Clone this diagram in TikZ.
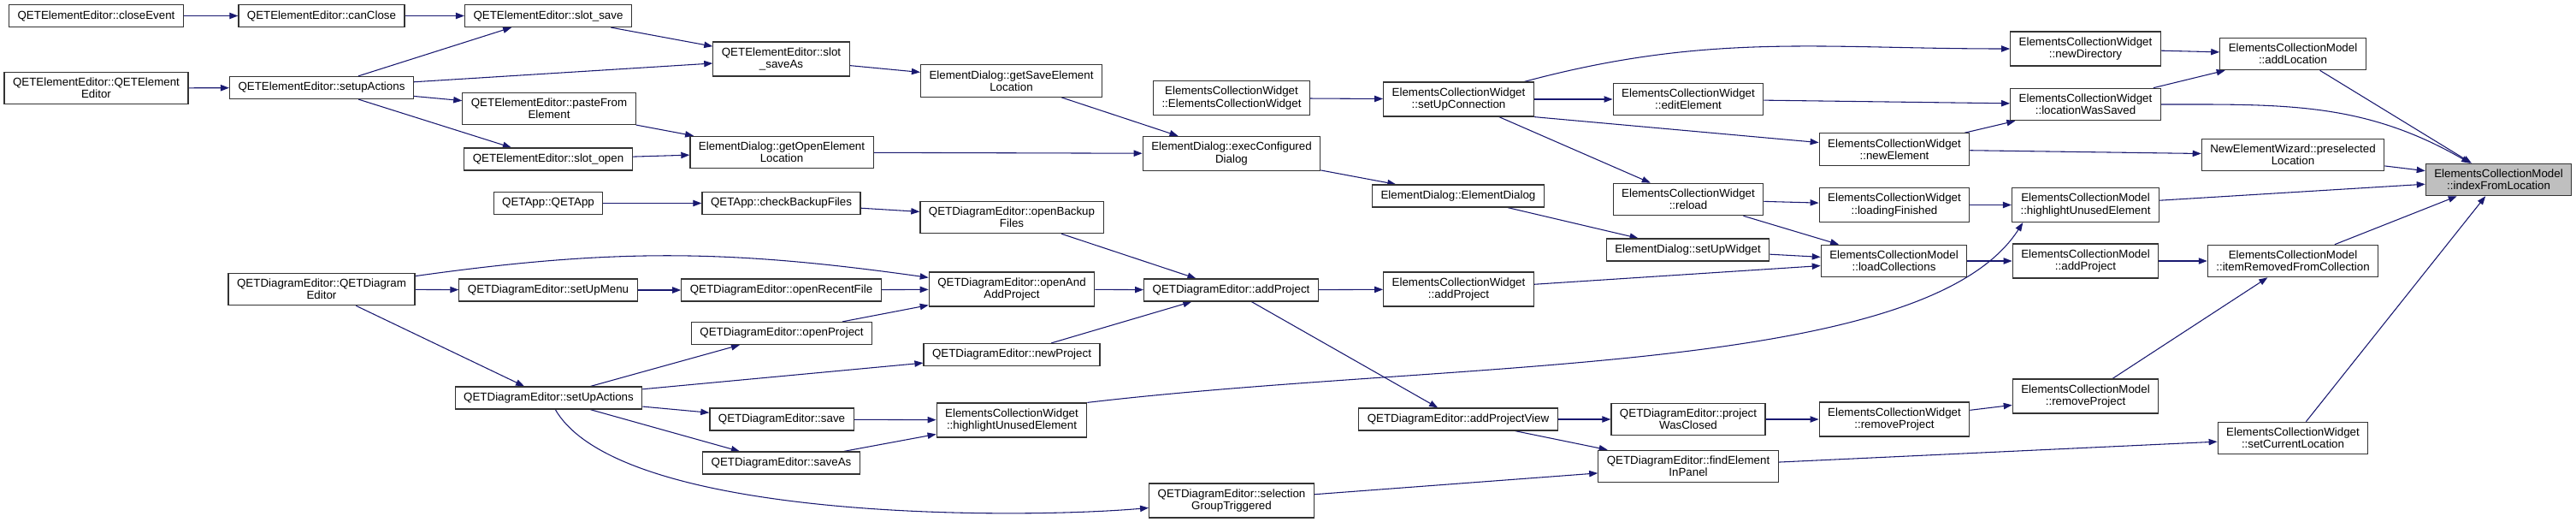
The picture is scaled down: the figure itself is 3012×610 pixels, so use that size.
\documentclass[tikz,border=0pt]{standalone}
\usepackage{fontspec}
\setmainfont{Liberation Sans}
\usetikzlibrary{arrows.meta,positioning,calc}
\definecolor{midnight}{RGB}{25,25,112}

\begin{document}
\begin{tikzpicture}[x=0.75pt,y=-0.75pt,
    fn/.style={draw=black!80, fill=white, line width=0.9pt, inner xsep=7.5pt, inner ysep=5pt,
      minimum height=19.5pt, align=center, font=\fontsize{10}{10.7}\selectfont},
    root/.style={fn, fill=black!25},
    call/.style={draw=midnight, line width=0.8pt, -{Triangle[length=7.5pt,width=5.5pt]}}]
    \pgfdeclarelayer{background}
    \pgfsetlayers{background,main}
    \useasboundingbox (0,0) rectangle (3012,610);
    % element editor
    \node[fn] (close-event) at (112.5,18.5) {QETElementEditor::closeEvent};
    \node[fn] (can-close) at (376,18.5) {QETElementEditor::canClose};
    \node[fn] (slot-save) at (641,18.5) {QETElementEditor::slot\_save};
    \node[fn] (qee-ctor) at (112.5,103) {QETElementEditor::QETElement\\Editor};
    \node[fn] (qee-setup) at (376,102.5) {QETElementEditor::setupActions};
    \node[fn] (slot-save-as) at (913.5,69) {QETElementEditor::slot\\\_saveAs};
    \node[fn] (paste-from) at (642,127) {QETElementEditor::pasteFrom\\Element};
    \node[fn] (slot-open) at (641,186) {QETElementEditor::slot\_open};
    \node[fn] (get-open) at (914,178) {ElementDialog::getOpenElement\\Location};
    \node[fn] (get-save) at (1182.5,94.5) {ElementDialog::getSaveElement\\Location};
    \node[fn] (exec-dialog) at (1440,179.5) {ElementDialog::execConfigured\\Dialog};
    \node[fn] (ed-ctor) at (1705,229) {ElementDialog::ElementDialog};
    \node[fn] (setup-widget) at (1973.5,292) {ElementDialog::setUpWidget};
    % collection widget / model
    \node[fn] (ecw-ctor) at (1440,114.5) {ElementsCollectionWidget\\::ElementsCollectionWidget};
    \node[fn] (setup-conn) at (1705.5,116) {ElementsCollectionWidget\\::setUpConnection};
    \node[fn] (edit-element) at (1974,116) {ElementsCollectionWidget\\::editElement};
    \node[fn] (new-dir) at (2438.5,57) {ElementsCollectionWidget\\::newDirectory};
    \node[fn] (add-loc) at (2681,63) {ElementsCollectionModel\\::addLocation};
    \node[fn] (loc-saved) at (2438.5,122) {ElementsCollectionWidget\\::locationWasSaved};
    \node[fn] (new-element) at (2215,174.5) {ElementsCollectionWidget\\::newElement};
    \node[fn] (preselected) at (2681,181) {NewElementWizard::preselected\\Location};
    \node[root] (index) at (2921.5,210) {ElementsCollectionModel\\::indexFromLocation};
    \node[fn] (reload) at (1974,233) {ElementsCollectionWidget\\::reload};
    \node[fn] (loading-fin) at (2215,239.5) {ElementsCollectionWidget\\::loadingFinished};
    \node[fn] (ecm-highlight) at (2438.5,239.5) {ElementsCollectionModel\\::highlightUnusedElement};
    \node[fn] (load-coll) at (2214.5,305) {ElementsCollectionModel\\::loadCollections};
    \node[fn] (ecm-add-proj) at (2438.5,305) {ElementsCollectionModel\\::addProject};
    \node[fn] (item-removed) at (2681,305) {ElementsCollectionModel\\::itemRemovedFromCollection};
    % app and diagram editor
    \node[fn] (qetapp) at (641,237.5) {QETApp::QETApp};
    \node[fn] (check-backup) at (913.5,237.5) {QETApp::checkBackupFiles};
    \node[fn] (open-backup) at (1183,254) {QETDiagramEditor::openBackup\\Files};
    \node[fn] (qde-ctor) at (376,338) {QETDiagramEditor::QETDiagram\\Editor};
    \node[fn] (setup-menu) at (641,339) {QETDiagramEditor::setUpMenu};
    \node[fn] (recent-file) at (913.5,339) {QETDiagramEditor::openRecentFile};
    \node[fn] (open-and-add) at (1183,338) {QETDiagramEditor::openAnd\\AddProject};
    \node[fn] (add-proj) at (1439.5,339) {QETDiagramEditor::addProject};
    \node[fn] (ecw-add-proj) at (1705.5,338) {ElementsCollectionWidget\\::addProject};
    \node[fn] (open-proj) at (914,389.5) {QETDiagramEditor::openProject};
    \node[fn] (new-proj) at (1183,414.5) {QETDiagramEditor::newProject};
    \node[fn] (qde-setup) at (641.5,465) {QETDiagramEditor::setUpActions};
    \node[fn] (save) at (914,490) {QETDiagramEditor::save};
    \node[fn] (save-as) at (913.5,541) {QETDiagramEditor::saveAs};
    \node[fn] (ecw-highlight) at (1183,491) {ElementsCollectionWidget\\::highlightUnusedElement};
    \node[fn] (add-view) at (1705,490) {QETDiagramEditor::addProjectView};
    \node[fn] (proj-closed) at (1974,490) {QETDiagramEditor::project\\WasClosed};
    \node[fn] (ecw-remove) at (2215,490) {ElementsCollectionWidget\\::removeProject};
    \node[fn] (ecm-remove) at (2438.5,463) {ElementsCollectionModel\\::removeProject};
    \node[fn] (set-current) at (2681,512) {ElementsCollectionWidget\\::setCurrentLocation};
    \node[fn] (find-element) at (1974,545) {QETDiagramEditor::findElement\\InPanel};
    \node[fn] (sel-group) at (1440,585) {QETDiagramEditor::selection\\GroupTriggered};
\begin{pgfonlayer}{background}
    \draw[call] (close-event) -- (can-close);
    \draw[call] (can-close) -- (slot-save);
    \draw[call] (qee-ctor) -- (qee-setup);
    \draw[call] (qee-setup) -- (slot-save);
    \draw[call] (qee-setup) -- (slot-save-as);
    \draw[call] (qee-setup) -- (paste-from);
    \draw[call] (qee-setup) -- (slot-open);
    \draw[call] (slot-save) -- (slot-save-as);
    \draw[call] (slot-save-as) -- (get-save);
    \draw[call] (paste-from) -- (get-open);
    \draw[call] (slot-open) -- (get-open);
    \draw[call] (get-save) -- (exec-dialog);
    \draw[call] (get-open) -- (exec-dialog);
    \draw[call] (exec-dialog) -- (ed-ctor);
    \draw[call] (ed-ctor) -- (setup-widget);
    \draw[call] (setup-widget) -- (load-coll);
    \draw[call] (ecw-ctor) -- (setup-conn);
    \draw[call] (setup-conn) to[out=15,in=180] (new-dir);
    \draw[call] (setup-conn) -- (edit-element);
    \draw[call] (setup-conn.south east) -- (new-element);
    \draw[call] (setup-conn) -- (reload);
    \draw[call] (edit-element) -- (loc-saved);
    \draw[call] (new-dir) -- (add-loc);
    \draw[call] (loc-saved) -- (add-loc);
    \draw[call] (loc-saved) to[out=0,in=150] (index);
    \draw[call] (add-loc) -- (index);
    \draw[call] (new-element) -- (loc-saved);
    \draw[call] (new-element) -- (preselected);
    \draw[call] (preselected) -- (index);
    \draw[call] (reload) -- (loading-fin);
    \draw[call] (reload) -- (load-coll);
    \draw[call] (loading-fin) -- (ecm-highlight);
    \draw[call] (ecm-highlight) -- (index);
    \draw[call] (load-coll) -- (ecm-add-proj);
    \draw[call] (ecm-add-proj) -- (item-removed);
    \draw[call] (item-removed) -- (index);
    \draw[call] (ecw-add-proj) -- (load-coll);
    \draw[call] (qetapp) -- (check-backup);
    \draw[call] (check-backup) -- (open-backup);
    \draw[call] (open-backup) -- (add-proj);
    \draw[call] (qde-ctor) -- (setup-menu);
    \draw[call] (qde-ctor) to[out=8,in=172] (open-and-add);
    \draw[call] (qde-ctor) -- (qde-setup);
    \draw[call] (setup-menu) -- (recent-file);
    \draw[call] (recent-file) -- (open-and-add);
    \draw[call] (open-proj) -- (open-and-add);
    \draw[call] (open-and-add) -- (add-proj);
    \draw[call] (qde-setup) -- (open-proj);
    \draw[call] (qde-setup) -- (new-proj);
    \draw[call] (qde-setup) -- (save);
    \draw[call] (qde-setup) -- (save-as);
    \draw[call] (qde-setup) to[out=-60,in=185,looseness=0.55] (sel-group);
    \draw[call] (new-proj) -- (add-proj);
    \draw[call] (save) -- (ecw-highlight);
    \draw[call] (save-as) -- (ecw-highlight);
    \draw[call] (ecw-highlight.north east) .. controls (1700,420) and (2250,440) .. ([xshift=10pt]ecm-highlight.south west);
    \draw[call] (add-proj) -- (ecw-add-proj);
    \draw[call] (add-proj) -- (add-view);
    \draw[call] (add-view) -- (proj-closed);
    \draw[call] (add-view) -- (find-element);
    \draw[call] (proj-closed) -- (ecw-remove);
    \draw[call] (ecw-remove) -- (ecm-remove);
    \draw[call] (ecm-remove) -- (item-removed);
    \draw[call] (sel-group) -- (find-element);
    \draw[call] (find-element) -- (set-current);
    \draw[call] (set-current) -- (index);
\end{pgfonlayer}
\end{tikzpicture}
\end{document}
